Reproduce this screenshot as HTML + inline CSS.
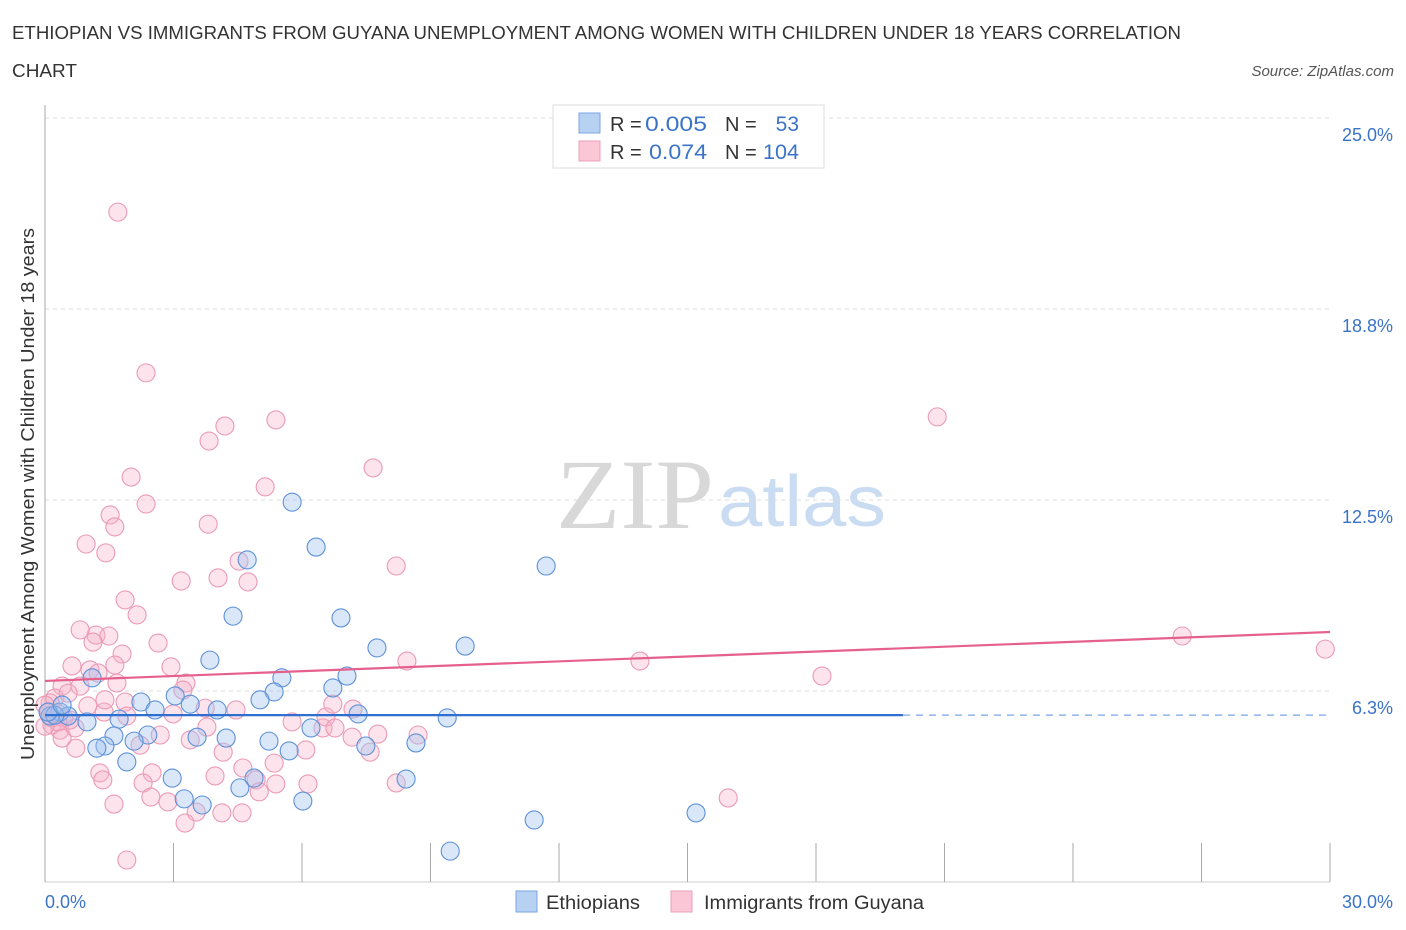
<!DOCTYPE html>
<html><head><meta charset="utf-8"><style>
body{margin:0;background:#fff;font-family:"Liberation Sans",sans-serif;}
svg{display:block}
</style></head><body>
<svg id="chart" width="1406" height="930">
<text x="12" y="39" font-size="18" fill="#333" textLength="1169" lengthAdjust="spacingAndGlyphs">ETHIOPIAN VS IMMIGRANTS FROM GUYANA UNEMPLOYMENT AMONG WOMEN WITH CHILDREN UNDER 18 YEARS CORRELATION</text>
<text x="12" y="77" font-size="18" fill="#333" textLength="65" lengthAdjust="spacingAndGlyphs">CHART</text>
<text x="1394" y="76" font-size="15" fill="#555" font-style="italic" text-anchor="end">Source: ZipAtlas.com</text>
<text x="635" y="528" font-size="100" fill="#d8d8d8" font-family="Liberation Serif,serif" text-anchor="middle" textLength="158" lengthAdjust="spacingAndGlyphs">ZIP</text>
<text x="802" y="526" font-size="72" fill="#c9dcf2" text-anchor="middle" textLength="168" lengthAdjust="spacingAndGlyphs">atlas</text>
<g id="grid"></g><g id="axes"></g><g id="pts"></g><g id="trend"></g>
<text transform="translate(34,494) rotate(-90)" font-size="18" fill="#333" text-anchor="middle" textLength="532" lengthAdjust="spacingAndGlyphs">Unemployment Among Women with Children Under 18 years</text>
<text x="45" y="908" font-size="18" fill="#3b73c8">0.0%</text>
<text x="1393" y="908" font-size="18" fill="#3b73c8" text-anchor="end">30.0%</text>
<g>
<rect x="553" y="105" width="271" height="63" fill="#fff" stroke="#ddd"/>
<rect x="579" y="113" width="21" height="20" fill="#b7d1f3" stroke="#7aa5e0"/>
<rect x="579" y="141" width="21" height="20" fill="#fbc6d6" stroke="#eaa0b8"/>
<text x="610" y="131" font-size="20" fill="#333">R =</text>
<text x="645" y="131" font-size="21" fill="#3b73c8" textLength="62" lengthAdjust="spacingAndGlyphs">0.005</text>
<text x="725" y="131" font-size="20" fill="#333">N =</text>
<text x="799" y="131" font-size="21" fill="#3b73c8" text-anchor="end">53</text>
<text x="610" y="159" font-size="20" fill="#333">R = </text>
<text x="649" y="159" font-size="21" fill="#3b73c8" textLength="58" lengthAdjust="spacingAndGlyphs">0.074</text>
<text x="725" y="159" font-size="20" fill="#333">N =</text>
<text x="763" y="159" font-size="21" fill="#3b73c8" textLength="36" lengthAdjust="spacingAndGlyphs">104</text>
</g>
<g>
<rect x="516" y="891" width="21" height="21" fill="#b7d1f3" stroke="#7aa5e0"/>
<text x="546" y="909" font-size="19" fill="#333" textLength="94" lengthAdjust="spacingAndGlyphs">Ethiopians</text>
<rect x="671" y="891" width="21" height="21" fill="#fbc6d6" stroke="#eaa0b8"/>
<text x="704" y="909" font-size="19" fill="#333" textLength="220" lengthAdjust="spacingAndGlyphs">Immigrants from Guyana</text>
</g>
</svg>
<script>
const yTicks=[6.25,12.5,18.75,25];
const yTickLabels=["6.3%","12.5%","18.8%","25.0%"];
const xTicks=[0,3,6,9,12,15,18,21,24,27,30];
const ethX=[5.77,6.33,4.72,11.70,4.39,6.91,7.75,9.81,3.85,1.10,5.53,7.05,6.72,5.35,3.04,2.24,3.39,5.02,4.02,2.57,0.35,0.54,0.12,0.98,1.73,7.31,9.39,6.21,2.40,1.61,3.55,4.23,2.08,5.23,1.40,1.21,5.70,7.49,8.66,1.91,2.97,4.88,8.43,4.55,3.25,3.67,6.02,11.42,15.20,9.46,0.23,0.07,0.40];
const ethY=[12.43,10.96,10.54,10.34,8.70,8.64,7.66,7.72,7.26,6.68,6.68,6.74,6.35,6.22,6.09,5.89,5.82,5.96,5.63,5.63,5.56,5.43,5.43,5.24,5.33,5.50,5.37,5.04,4.81,4.78,4.74,4.71,4.61,4.61,4.45,4.38,4.29,4.45,4.55,3.93,3.40,3.40,3.37,3.08,2.72,2.52,2.65,2.03,2.26,1.01,5.46,5.56,5.79];
const guyX=[1.70,2.36,5.39,4.20,3.83,7.66,2.01,5.14,2.36,1.52,1.63,3.81,0.96,1.42,4.53,8.20,3.18,4.04,4.74,1.87,2.15,20.83,26.55,29.89,1.19,1.49,1.80,2.64,1.12,0.63,1.05,1.24,2.94,0.40,0.82,1.68,3.29,8.45,13.89,18.14,0.23,0.54,1.87,1.38,0.12,0.16,0.35,0.70,1.91,2.99,4.46,5.77,6.49,6.56,7.19,8.71,0.40,0.72,2.22,3.39,3.78,7.17,7.59,4.16,6.09,1.28,1.35,2.50,2.29,3.97,4.62,5.35,4.93,5.39,6.14,8.20,2.47,2.87,1.61,3.53,3.27,4.13,4.60,5.00,15.95,1.91,0.28,0.09,0.44,0.58,0.16,0.00,0.82,1.40,1.00,6.72,6.77,7.77,3.74,3.22,2.69,1.63,0.30,0.00];
const guyY=[21.92,16.66,15.12,14.92,14.43,13.55,13.25,12.93,12.37,12.01,11.62,11.71,11.06,10.77,10.50,10.34,9.85,9.95,9.82,9.23,8.74,15.22,8.05,7.62,8.08,8.05,7.46,7.82,7.85,7.07,6.94,6.84,7.04,6.41,6.41,6.51,6.51,7.23,7.23,6.74,6.02,6.18,5.89,5.56,5.86,5.14,4.97,5.04,5.43,5.50,5.63,5.24,5.04,5.40,5.66,4.81,4.71,4.38,4.48,4.65,5.07,4.74,4.25,4.25,4.32,3.57,3.34,3.57,3.24,3.47,3.73,3.89,3.34,3.21,3.21,3.24,2.78,2.62,2.55,2.29,1.93,2.26,2.26,2.95,2.75,0.72,5.53,5.56,5.37,5.30,5.37,5.79,8.25,5.96,5.76,5.82,5.04,4.84,5.69,6.28,4.81,7.10,5.24,5.10];
const ethTrend=[5.46,5.46];
const guyTrend=[6.58,8.18];
const ethSolidEnd=20.03;
const NS="http://www.w3.org/2000/svg";
const X=v=>45+v*(1285/30);
const Y=v=>882-v*(764/25);
function mk(p,t,a){const e=document.createElementNS(NS,t);for(const k in a)e.setAttribute(k,a[k]);p.appendChild(e);return e;}
const grid=document.getElementById('grid'),axes=document.getElementById('axes'),pts=document.getElementById('pts'),tr=document.getElementById('trend');
yTicks.forEach((t,i)=>{
 const l=mk(grid,'line',{x1:45,x2:1330,y1:Y(t),y2:Y(t),stroke:'#ddd','stroke-dasharray':'4,4'});
 
 
 const tx=mk(grid,'text',{x:1393,y:Y(t)+23,'font-size':18,fill:'#3b73c8','text-anchor':'end'});
 tx.textContent=yTickLabels[i];
 
 
});
const al=mk(axes,'line',{x1:45,x2:45,y1:105,y2:882,stroke:'#aaa'});


const bl=mk(axes,'line',{x1:45,x2:1330,y1:882,y2:882,stroke:'#ccc'});


xTicks.forEach(t=>{
 const l=mk(axes,'line',{x1:X(t),x2:X(t),y1:843,y2:882,stroke:'#aaa'});
 
 
});
guyX.forEach((v,i)=>{
 const c=mk(pts,'circle',{cx:X(v),cy:Y(guyY[i]),r:9,fill:'rgba(247,175,200,0.35)',stroke:'#eb9ab5','stroke-width':1.1});
 
 
});
ethX.forEach((v,i)=>{
 const c=mk(pts,'circle',{cx:X(v),cy:Y(ethY[i]),r:9,fill:'rgba(160,195,240,0.4)',stroke:'#5d90d8','stroke-width':1.1});
 
 
});
const ey=v=>ethTrend[0]+(ethTrend[1]-ethTrend[0])*v/30;
const t1=mk(tr,'line',{x1:X(0),x2:X(ethSolidEnd),y1:Y(ey(0)),y2:Y(ey(ethSolidEnd)),stroke:'#2f6fd0','stroke-width':2.2});


const t2=mk(tr,'line',{x1:X(ethSolidEnd),x2:X(30),y1:Y(ey(ethSolidEnd)),y2:Y(ey(30)),stroke:'#7aa5e0','stroke-width':1.3,'stroke-dasharray':'7,6'});


const t3=mk(tr,'line',{x1:X(0),x2:X(30),y1:Y(guyTrend[0]),y2:Y(guyTrend[1]),stroke:'#e5608d','stroke-width':2.2});


</script>
</body></html>
